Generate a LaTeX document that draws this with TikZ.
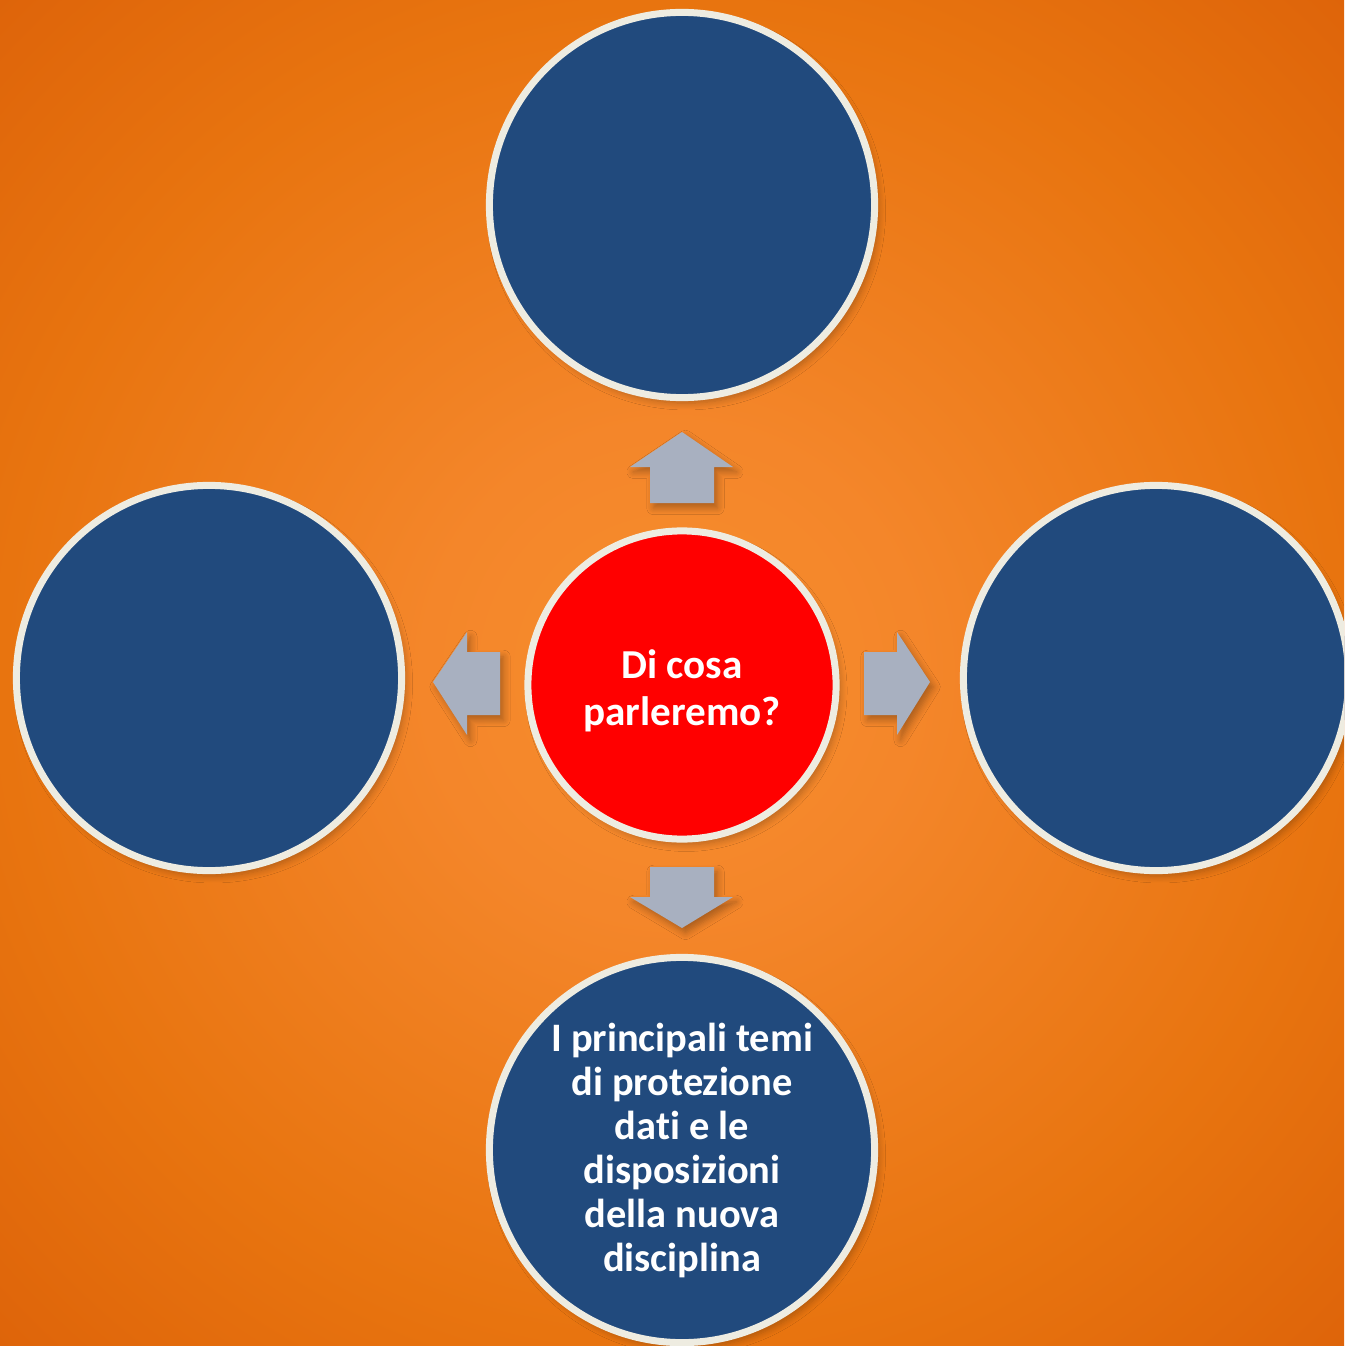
\documentclass[tikz,border=0pt]{standalone}
\usepackage{fontspec}
\setmainfont[RawFeature=-liga]{Carlito}
\usetikzlibrary{shadows.blur}
\definecolor{bgin}{HTML}{F68A2C}
\definecolor{bgmid}{HTML}{F4862A}
\definecolor{bgedge}{HTML}{E8740F}
\definecolor{bgout}{HTML}{DE640A}
\definecolor{navy}{HTML}{214A7D}
\definecolor{rim}{HTML}{EEECE1}
\definecolor{arrowgray}{HTML}{A8B0C0}
\pgfdeclareradialshading{bgshade}{\pgfpoint{0bp}{0bp}}{color(0bp)=(bgin); color(30bp)=(bgin); color(70bp)=(bgmid); color(190bp)=(bgedge); color(270bp)=(bgout); color(275bp)=(bgout)}
\newcommand{\lowtext}[2]{\raisebox{#1}[\height][\depth]{\begin{tabular}{@{}c@{}}#2\end{tabular}}}
\tikzset{
  bubble/.style={circle, draw=rim, line width=0.07cm, inner sep=0pt, outer sep=0pt,
    minimum size=3.85cm, fill=navy, text=white, align=center,
    font=\fontsize{11.5}{12.5}\selectfont\bfseries,
    blur shadow={shadow xshift=1.2pt, shadow yshift=-1.6pt, shadow opacity=25, shadow blur steps=8}},
  hub/.style={bubble, fill=red, minimum size=3.08cm, font=\fontsize{11.7}{13.4}\selectfont\bfseries},
  blockarrow/.style={fill=arrowgray, draw=none,
    blur shadow={shadow xshift=1pt, shadow yshift=-1.4pt, shadow opacity=30, shadow blur steps=6}}
}
\begin{document}
\begin{tikzpicture}[x=0.01cm,y=-0.01cm]
\useasboundingbox (0,0) rectangle (1344,1346);
\clip (0,0) rectangle (1344,1346);
\node[inner sep=0pt, outer sep=0pt] (bg) at (672,673) {\pgfuseshading{bgshade}};

\node[bubble] (top) at (682,205) {};
\node[bubble] (left) at (209,678) {};
\node[bubble] (right) at (1156,678) {};
\node[bubble] (bottom) at (682,1150) {\lowtext{-0.03cm}{I principali temi\\di protezione\\dati e le\\disposizioni\\della nuova\\disciplina}};
\node[hub] (hub) at (682,685) {\lowtext{-0.08cm}{Di cosa\\parleremo?}};

% block arrows
\fill[blockarrow] (682,432) -- (733,467) -- (714,467) -- (714,503) -- (650,503) -- (650,467) -- (630,467) -- cycle;
\fill[blockarrow] (682,928) -- (733,897) -- (714,897) -- (714,867) -- (650,867) -- (650,897) -- (630,897) -- cycle;
\fill[blockarrow] (433,682) -- (467,632) -- (467,652) -- (500,652) -- (500,715) -- (467,715) -- (467,735) -- cycle;
\fill[blockarrow] (930,682) -- (897,632) -- (897,652) -- (864,652) -- (864,715) -- (897,715) -- (897,735) -- cycle;
\end{tikzpicture}
\end{document}
